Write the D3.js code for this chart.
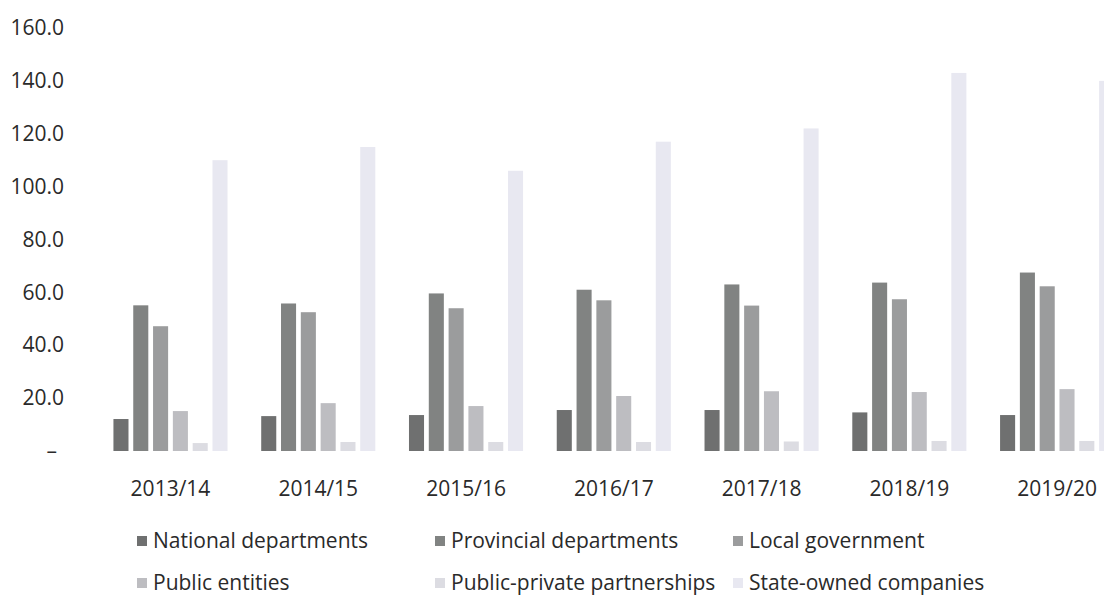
<!DOCTYPE html>
<html>
<head>
<meta charset="utf-8">
<script src="https://cdn.jsdelivr.net/npm/d3@7"></script>
<style>
  body { margin: 0; background: #fff; }
  svg { display: block; font-family: "Open Sans", sans-serif; }
</style>
</head>
<body>
<div id="chart"></div>
<script>
const years = ["2013/14", "2014/15", "2015/16", "2016/17", "2017/18", "2018/19", "2019/20"];
const seriesNames = ["National departments", "Provincial departments", "Local government",
  "Public entities", "Public-private partnerships", "State-owned companies"];

const national = [12.1, 13.2, 13.6, 15.5, 15.5, 14.6, 13.6];
const provincial = [55.1, 55.8, 59.6, 61.0, 63.0, 63.7, 67.5];
const localGov = [47.2, 52.5, 54.0, 57.0, 55.0, 57.4, 62.3];
const publicEntities = [15.1, 18.1, 17.0, 20.8, 22.6, 22.3, 23.4];
const ppp = [3.0, 3.4, 3.4, 3.4, 3.6, 3.8, 3.8];
const stateOwned = [110, 115, 106, 117, 122, 143, 140];

const yTicks = [0, 20, 40, 60, 80, 100, 120, 140, 160];
const colors = ["#6f7070", "#818382", "#9b9c9d", "#bdbdc1", "#dcdce2", "#e8e8f1"];

const width = 1104, height = 596;
const fontSize = 21;

const allSeries = [national, provincial, localGov, publicEntities, ppp, stateOwned];
const data = years.map((yr, i) => ({
  year: yr,
  values: seriesNames.map((s, j) => ({ key: s, value: allSeries[j][i] }))
}));

const svg = d3.select("#chart").append("svg")
  .attr("width", width)
  .attr("height", height);

const x0 = d3.scaleBand().domain(years).range([96.6, 1131]).padding(0);
const x1 = d3.scaleBand().domain(seriesNames)
  .range([0, x0.bandwidth()])
  .paddingInner(0.24)
  .paddingOuter(0.85);
const y = d3.scaleLinear().domain([0, 160]).range([451, 28]);
const color = d3.scaleOrdinal().domain(seriesNames).range(colors);

// y axis
const yAxis = svg.append("g")
  .attr("transform", "translate(64,0)")
  .call(d3.axisLeft(y).tickValues(yTicks).tickSize(0).tickPadding(0)
    .tickFormat(d => d === 0 ? "–" : d.toFixed(1)));
yAxis.select(".domain").remove();
yAxis.selectAll("text")
  .attr("font-size", fontSize)
  .attr("fill", "#2a2a2a")
  .attr("font-family", "Open Sans, sans-serif")
  .attr("dx", d => d === 0 ? -7 : 0);

// bars
const groups = svg.append("g").selectAll("g")
  .data(data)
  .join("g")
  .attr("transform", d => `translate(${x0(d.year)},0)`);

groups.selectAll("rect")
  .data(d => d.values)
  .join("rect")
  .attr("x", d => x1(d.key))
  .attr("width", x1.bandwidth())
  .attr("y", d => y(d.value))
  .attr("height", d => y(0) - y(d.value))
  .attr("fill", d => color(d.key));

// x axis
const xAxis = svg.append("g")
  .attr("transform", "translate(0,481)")
  .call(d3.axisBottom(x0).tickSize(0).tickPadding(0));
xAxis.select(".domain").remove();
xAxis.selectAll("text")
  .attr("font-size", fontSize)
  .attr("fill", "#2a2a2a")
  .attr("font-family", "Open Sans, sans-serif");

// legend, laid out in a 3-column grid
const colX = [137, 435, 733];
const rowY = [541, 583];
const legend = svg.append("g").selectAll("g")
  .data(seriesNames)
  .join("g")
  .attr("transform", (d, i) => `translate(${colX[i % 3]},${rowY[Math.floor(i / 3)]})`);

legend.append("rect")
  .attr("x", 0)
  .attr("y", -5)
  .attr("width", 10)
  .attr("height", 10)
  .attr("fill", d => color(d));

legend.append("text")
  .attr("x", 16)
  .attr("y", 0)
  .attr("dy", "0.35em")
  .attr("font-size", fontSize)
  .attr("fill", "#2a2a2a")
  .text(d => d);
</script>
</body>
</html>
